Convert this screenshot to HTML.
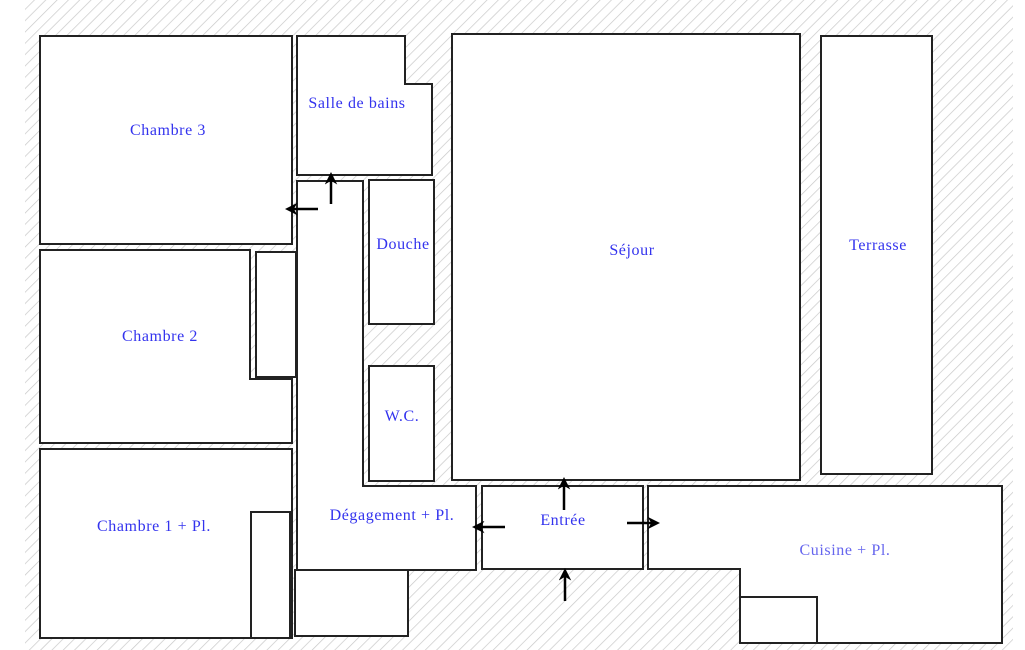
<!DOCTYPE html>
<html><head><meta charset="utf-8"><style>
html,body{margin:0;padding:0;background:#fff;}
svg{display:block;}
text{font-family:"Liberation Serif",serif;font-size:16px;letter-spacing:0.6px;fill:#3333ee;text-anchor:middle;}
</style></head><body>
<svg width="1025" height="650" viewBox="0 0 1025 650" xmlns="http://www.w3.org/2000/svg">
<defs>
<pattern id="h" width="8" height="8" patternUnits="userSpaceOnUse" patternTransform="rotate(45)">
<line x1="0" y1="0" x2="0" y2="8" stroke="#c8c8c8" stroke-width="1.4"/>
</pattern>
<marker id="a" markerWidth="5" markerHeight="5" refX="3" refY="2.5" orient="auto" markerUnits="strokeWidth">
<path d="M0,0 L5,2.5 L0,5 L1.5,2.5 Z" fill="#000"/>
</marker>
</defs>
<rect x="25" y="0" width="988" height="650" fill="url(#h)"/>
<g fill="#fff" stroke="#222" stroke-width="2">
<rect x="40" y="36" width="252" height="208"/>
<polygon points="297,36 405,36 405,84 432,84 432,175 297,175"/>
<polygon points="297,181 363,181 363,486 476,486 476,570 297,570"/>
<rect x="369" y="180" width="65" height="144"/>
<rect x="369" y="366" width="65" height="115"/>
<rect x="452" y="34" width="348" height="446"/>
<rect x="821" y="36" width="111" height="438"/>
<polygon points="40,250 250,250 250,379 292,379 292,443 40,443"/>
<rect x="256" y="252" width="40" height="125"/>
<rect x="40" y="449" width="252" height="189"/>
<rect x="251" y="512" width="39" height="126"/>
<rect x="295" y="570" width="113" height="66"/>
<rect x="482" y="486" width="161" height="83"/>
<polygon points="648,486 1002,486 1002,643 740,643 740,569 648,569"/>
<rect x="740" y="597" width="77" height="46"/>
</g>
<g stroke="#000" stroke-width="2.5" fill="none" marker-end="url(#a)">
<line x1="318" y1="209" x2="290" y2="209"/>
<line x1="331" y1="204" x2="331" y2="177"/>
<line x1="505" y1="527" x2="477" y2="527"/>
<line x1="564" y1="510" x2="564" y2="482"/>
<line x1="627" y1="523" x2="655" y2="523"/>
<line x1="565" y1="601" x2="565" y2="573"/>
</g>
<text x="168" y="135">Chambre 3</text>
<text x="357" y="108">Salle de bains</text>
<text x="403" y="249">Douche</text>
<text x="402" y="421">W.C.</text>
<text x="632" y="255">Séjour</text>
<text x="878" y="250">Terrasse</text>
<text x="160" y="341">Chambre 2</text>
<text x="154" y="531">Chambre 1 + Pl.</text>
<text x="392" y="520">Dégagement + Pl.</text>
<text x="563" y="525">Entrée</text>
<text x="845" y="555" style="fill:#6666ee">Cuisine + Pl.</text>
</svg>
</body></html>
